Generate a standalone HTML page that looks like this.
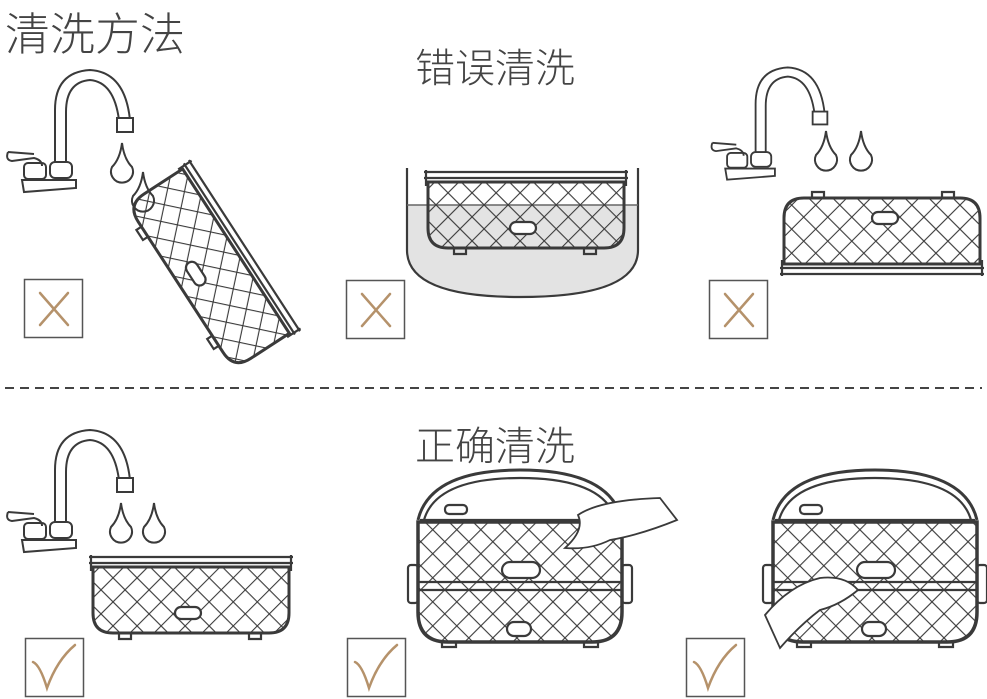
<!DOCTYPE html>
<html><head><meta charset="utf-8"><style>
html,body{margin:0;padding:0;background:#fff}
body{width:987px;height:699px;overflow:hidden;position:relative;font-family:"Liberation Sans","Noto Sans CJK SC",sans-serif;color:#444}
.t{position:absolute;white-space:nowrap;font-weight:300}
</style></head><body>
<svg width="987" height="699" viewBox="0 0 987 699" style="position:absolute;left:0;top:0">
<defs>
<pattern id="hx" width="17" height="17" patternUnits="userSpaceOnUse" patternTransform="rotate(45)">
<path d="M0 0V17M0 0H17" stroke="#3a3a3a" stroke-width="2.2" fill="none"/>
</pattern>
<clipPath id="bc"><path d="M4 14 H200 V60 Q200 80 180 80 H24 Q4 80 4 60Z"/></clipPath>
<g id="basket" fill="none" stroke="#3a3a3a" stroke-width="2.2">
<rect x="4" y="14" width="196" height="66" fill="url(#hx)" clip-path="url(#bc)" stroke="none"/>
<path d="M4 14 H200 V60 Q200 80 180 80 H24 Q4 80 4 60Z" stroke-width="3"/>
<path d="M0 4 H204 M0 10 H204 M2 2 V18 M202 2 V18"/>
<rect x="86" y="54" width="26" height="12" rx="6" fill="#fff"/>
<path d="M30 80 v6 h12 v-6 M160 80 v6 h12 v-6"/>
</g>
<g id="faucet" fill="none" stroke="#3a3a3a" stroke-width="2">
<path d="M55 162 V110 Q55 72 90 70 Q125 72 130 120 M66 162 V112 Q66 82 90 80 Q114 82 119 120"/>
<rect x="117" y="118" width="16" height="14" fill="#fff"/>
<rect x="50" y="162" width="22" height="16" rx="5" fill="#fff"/>
<rect x="24" y="163" width="22" height="16" rx="4" fill="#fff"/>
<path d="M8 152 Q5 160 12 161 L34 158 Q42 160 42 166 M8 152 L34 154"/>
<path d="M22 180 H76 V188 L24 192Z" fill="#fff"/>
</g>
<g id="drop" fill="none" stroke="#3a3a3a" stroke-width="2"><path d="M0 0 Q2 16 10 24 A11 11 0 1 1 -10 24 Q-2 16 0 0Z"/></g>
</defs>

<use href="#faucet"/>
<use href="#drop" x="122" y="143"/>
<use href="#drop" x="143" y="172"/>
<g transform="translate(210,268) rotate(57) translate(-102,-45)"><use href="#basket"/></g>
<rect x="24.5" y="279.5" width="58" height="58" fill="none" stroke="#555" stroke-width="1.5"/>

<path d="M407 205 V250 Q407 297 520 297 Q638 297 638 250 V205Z" fill="#e3e3e3"/>
<path d="M407 168 V250 Q407 297 520 297 Q638 297 638 250 V168" fill="none" stroke="#3a3a3a" stroke-width="2.2"/>
<path d="M407 205 H638" stroke="#666" stroke-width="1.5"/>
<g transform="translate(424,168)"><use href="#basket"/></g>
<rect x="346.5" y="280.5" width="58" height="58" fill="none" stroke="#555" stroke-width="1.5"/>

<g transform="translate(705,3) scale(0.92)"><use href="#faucet"/></g>
<use href="#drop" x="826" y="131"/>
<use href="#drop" x="861" y="131"/>
<g transform="translate(984,278) scale(-1,-1)"><use href="#basket"/></g>
<rect x="709.5" y="280.5" width="58" height="58" fill="none" stroke="#555" stroke-width="1.5"/>

<line x1="5" y1="388" x2="982" y2="388" stroke="#444" stroke-width="2" stroke-dasharray="9,6"/>

<g transform="translate(0,360)"><use href="#faucet"/></g>
<use href="#drop" x="121" y="503"/>
<use href="#drop" x="154" y="503"/>
<g transform="translate(89,553)"><use href="#basket"/></g>
<rect x="25.5" y="638.5" width="58" height="58" fill="none" stroke="#555" stroke-width="1.5"/>

<g id="box" fill="none" stroke="#3a3a3a" stroke-width="2.2">
<path d="M418 520 Q430 470 520 470 Q610 470 622 520" stroke-width="3"/>
<path d="M424 520 Q436 478 520 478 Q604 478 616 520"/>
<rect x="445" y="505" width="22" height="9" rx="4"/>
<path d="M420 520 H620"/>
<clipPath id="cb"><path d="M418 522 H622 V612 Q622 642 592 642 H448 Q418 642 418 612Z"/></clipPath>
<rect x="418" y="522" width="204" height="120" fill="url(#hx)" clip-path="url(#cb)" stroke="none"/>
<path d="M418 522 H622 V612 Q622 642 592 642 H448 Q418 642 418 612Z" stroke-width="3.5"/>
<path d="M418 582 H622 M418 590 H622"/>
<rect x="408" y="565" width="10" height="38" rx="3"/>
<rect x="622" y="565" width="10" height="38" rx="3"/>
<rect x="502" y="562" width="38" height="16" rx="8" fill="#fff"/>
<rect x="507" y="622" width="24" height="14" rx="7" fill="#fff"/>
<path d="M442 642 v5 h14 v-5 M584 642 v5 h14 v-5"/>
</g>
<path d="M578 515 Q600 500 660 498 L677 520 Q640 535 610 540 Q590 550 565 548 Q585 530 578 515Z" fill="#fff" stroke="#3a3a3a" stroke-width="1.8"/>
<rect x="347.5" y="638.5" width="58" height="58" fill="none" stroke="#555" stroke-width="1.5"/>

<use href="#box" x="355" y="0"/>
<path d="M765 615 Q790 585 820 578 Q845 575 858 590 Q840 605 820 610 Q800 625 780 648 Z" fill="#fff" stroke="#3a3a3a" stroke-width="1.8"/>
<rect x="686.5" y="638.5" width="58" height="58" fill="none" stroke="#555" stroke-width="1.5"/>

<g stroke="#b5926b" stroke-width="2.5" fill="none" stroke-linecap="round">
<path d="M40 293 L68 325 M68 293 L40 325"/>
<path d="M362 294 L390 326 M390 294 L362 326"/>
<path d="M725 294 L753 326 M753 294 L725 326"/>
<path d="M33 662 Q40 665 47 688 Q57 660 75 645"/>
<path d="M355 662 Q362 665 369 688 Q379 660 397 645"/>
<path d="M694 662 Q701 665 708 688 Q718 660 736 645"/>
</g>
</svg>
<div class="t" style="left:5px;top:-2px;font-size:45px">清洗方法</div>
<div class="t" style="left:415px;top:36px;font-size:40px">错误清洗</div>
<div class="t" style="left:415px;top:414px;font-size:40px">正确清洗</div>
</body></html>
